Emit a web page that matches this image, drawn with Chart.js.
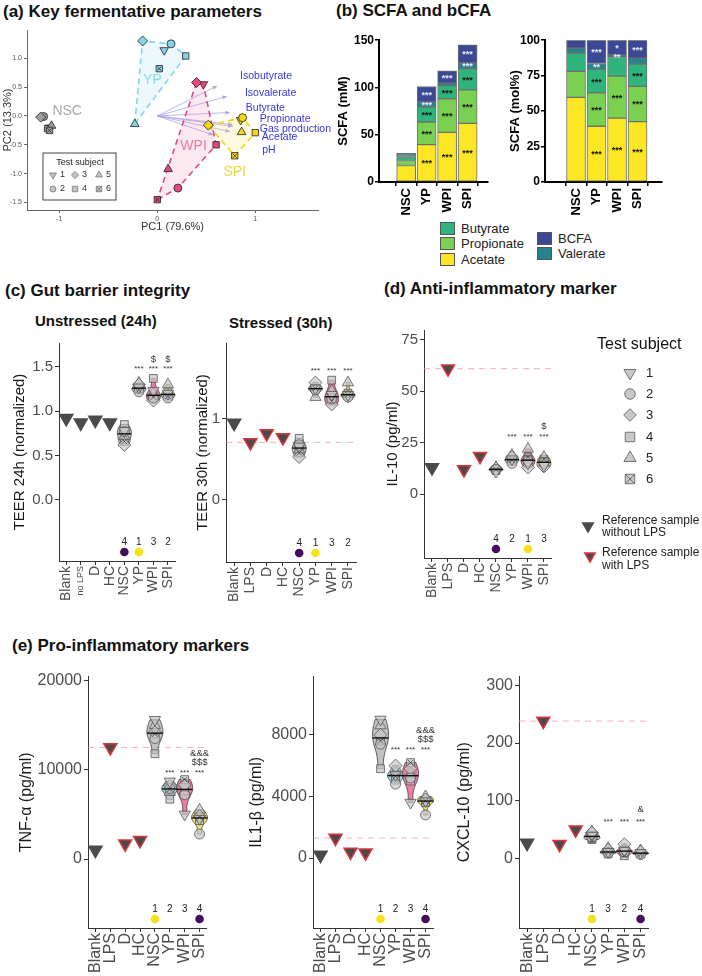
<!DOCTYPE html>
<html>
<head>
<meta charset="utf-8">
<title>Fermentation and gut barrier</title>
<script src="https://cdn.jsdelivr.net/npm/chart.js@4.4.1/dist/chart.umd.min.js"></script>
<style>
  html, body { margin: 0; padding: 0; background: #fff; }
  body { position: relative; width: 702px; height: 976px; overflow: hidden; font-family: "Liberation Sans", Arial, sans-serif; }
  canvas { position: absolute; }
  .t { position: absolute; white-space: nowrap; line-height: 1; color: #111; font-weight: bold; }
  .lg { position: absolute; padding-left: 21px; font-size: 13px; line-height: 13px; color: #222; white-space: nowrap; }
  .lg i { position: absolute; left: 0; top: 0; width: 13px; height: 11px; border: 1px solid #555; }
</style>
</head>
<body>
<div class="t" style="left:3px;top:3px;font-size:17px">(a) Key fermentative parameters</div>
<div class="t" style="left:336px;top:2px;font-size:17px">(b) SCFA and bCFA</div>
<div class="t" style="left:5px;top:282px;font-size:17px">(c) Gut barrier integrity</div>
<div class="t" style="left:384px;top:280px;font-size:17px">(d) Anti-inflammatory marker</div>
<div class="t" style="left:35px;top:313px;font-size:15px">Unstressed (24h)</div>
<div class="t" style="left:229px;top:315px;font-size:15px">Stressed (30h)</div>
<div class="t" style="left:12px;top:637px;font-size:17px">(e) Pro-inflammatory markers</div>

<div class="lg" style="left:440px;top:222px"><i style="background:#2fb47c"></i>Butyrate</div>
<div class="lg" style="left:440px;top:237px"><i style="background:#7ad151"></i>Propionate</div>
<div class="lg" style="left:440px;top:253px"><i style="background:#fde725"></i>Acetate</div>
<div class="lg" style="left:537px;top:232px"><i style="background:#3b4994"></i>BCFA</div>
<div class="lg" style="left:537px;top:247px"><i style="background:#26828e"></i>Valerate</div>

<script>
// ---------- (a) PCA scores [PC1, PC2], subjects 1..6 ----------
const pcaGroupNames = ['NSC', 'YP', 'WPI', 'SPI'];
const pcaNSC = [[-1.10, -0.20], [-1.16, -0.01], [-1.19, -0.02], [-1.12, -0.22], [-1.08, -0.17], [-1.10, -0.25]];
const pcaYP  = [[0.07, 1.14], [0.14, 1.25], [-0.15, 1.30], [0.29, 1.04], [-0.23, -0.14], [0.02, 0.82]];
const pcaWPI = [[0.47, 0.55], [0.21, -1.25], [0.40, 0.58], [0.60, -0.50], [0.11, -0.92], [0.00, -1.45]];
const pcaSPI = [[0.85, -0.07], [0.87, -0.03], [0.52, -0.16], [1.00, -0.29], [0.86, -0.28], [0.79, -0.69]];
const loadNames = ['Isobutyrate', 'Isovalerate', 'Butyrate', 'Propionate', 'Gas production', 'Acetate', 'pH'];
const loadPC1 = [0.61, 0.71, 0.74, 0.77, 0.77, 0.74, 0.57];
const loadPC2 = [0.52, 0.34, 0.06, -0.15, -0.18, -0.27, -0.33];

// ---------- (b) SCFA ----------
const scfaCats = ['NSC', 'YP', 'WPI', 'SPI'];
const acidNames = ['Acetate', 'Propionate', 'Butyrate', 'Valerate', 'BCFA'];
const acetateMM = [17.5, 39.5, 52.5, 62.0];
const propionateMM = [5.2, 24.0, 35.5, 35.5];
const butyrateMM = [4.3, 16.0, 14.0, 22.5];
const valerateMM = [1.5, 5.3, 2.6, 6.0];
const bcfaMM = [1.8, 16.2, 12.9, 19.0];
const acetatePct = [59.7, 39.3, 45.0, 42.6];
const propionatePct = [18.3, 23.5, 29.7, 24.8];
const butyratePct = [12.9, 16.8, 13.1, 15.7];
const valeratePct = [3.5, 4.0, 1.9, 4.3];
const bcfaPct = [5.6, 16.4, 10.3, 12.6];
const starsMM = [
  ['', '***', '***', '***'],
  ['', '***', '***', '***'],
  ['', '***', '***', '***'],
  ['', '***', '', '***'],
  ['', '***', '***', '***']
];
const starsPct = [
  ['', '***', '***', '***'],
  ['', '***', '***', '***'],
  ['', '***', '', '***'],
  ['', '**', '**', ''],
  ['', '***', '*', '***']
];

// ---------- (c)-(e) reference samples + subjects 1..6 per group (NSC, YP, WPI, SPI) ----------
const cats24 = ['Blank', 'no LPS', 'D', 'HC', 'NSC', 'YP', 'WPI', 'SPI'];
const catsLps = ['Blank', 'LPS', 'D', 'HC', 'NSC', 'YP', 'WPI', 'SPI'];

const teer24Ref = [0.92, 0.87, 0.90, 0.87];
const teer24 = [
  [0.78, 0.77, 0.62, 0.85, 0.72, 0.66],
  [1.27, 1.22, 1.30, 1.25, 1.32, 1.24],
  [1.23, 1.15, 1.12, 1.37, 1.20, 1.16],
  [1.20, 1.15, 1.18, 1.22, 1.30, 1.17]
];
const teer24Sig = [['', '***', '***', '***'], ['', '', '$', '$']];
const teer24Rank = [4, 1, 3, 2];

const teer30Ref = [0.95, 0.71, 0.82, 0.77];
const teer30 = [
  [0.66, 0.68, 0.53, 0.76, 0.62, 0.58],
  [1.38, 1.36, 1.45, 1.37, 1.27, 1.38],
  [1.30, 1.25, 1.18, 1.48, 1.35, 1.22],
  [1.30, 1.27, 1.28, 1.32, 1.45, 1.30]
];
const teer30Sig = [['', '***', '***', '***']];
const teer30Rank = [4, 1, 3, 2];

const il10Ref = [13, 61, 12, 18.5];
const il10 = [
  [11, 12, 12.5, 11.5, 13, 12],
  [17, 15, 18, 16, 19, 16.5],
  [15, 16, 13, 17, 22, 18],
  [14, 15, 13.5, 16, 18, 17]
];
const il10Sig = [['', '***', '***', '***'], ['', '', '', '$']];
const il10Rank = [4, 2, 1, 3];

const tnfRef = [1000, 12500, 1700, 2100];
const tnf = [
  [15600, 13500, 14200, 11800, 15000, 14000],
  [8700, 7900, 8200, 6700, 7500, 7800],
  [5000, 7200, 8300, 8000, 7600, 8900],
  [4500, 2800, 4800, 4300, 5500, 4700]
];
const tnfSig = [['', '***', '***', '***'], ['', '', '', '$$$'], ['', '', '', '&&&']];
const tnfRank = [1, 2, 3, 4];

const il1bRef = [200, 1300, 400, 350];
const il1b = [
  [9000, 7400, 8000, 5800, 8600, 7600],
  [5400, 4800, 6000, 5200, 5600, 5300],
  [3600, 5200, 5800, 5000, 5500, 6200],
  [3700, 2800, 3800, 3600, 4000, 3700]
];
const il1bSig = [['', '***', '***', '***'], ['', '', '', '$$$'], ['', '', '', '&&&']];
const il1bRank = [1, 2, 3, 4];

const cxclRef = [27, 238, 25, 50];
const cxcl = [
  [40, 37, 45, 35, 47, 33],
  [12, 10, 15, 8, 18, 11],
  [14, 12, 25, 10, 16, 5],
  [10, 7, 12, 9, 14, 8]
];
const cxclSig = [['', '***', '***', '***'], ['', '', '', '&']];
const cxclRank = [1, 3, 2, 4];

// ---------- helpers ----------
const fam = '"Liberation Sans", Arial, Helvetica, sans-serif';
Chart.defaults.font.family = fam;
Chart.defaults.animation = false;
Chart.defaults.plugins.legend.display = false;
Chart.defaults.plugins.tooltip.enabled = false;

function addCanvas(left, top, w, h) {
  const c = document.createElement('canvas');
  c.width = w; c.height = h;
  c.style.left = left + 'px'; c.style.top = top + 'px';
  c.style.width = w + 'px'; c.style.height = h + 'px';
  document.body.appendChild(c);
  return c.getContext('2d');
}
// ticks at multiples of step inside the axis range (optionally not below `floor`)
function stepTicks(step, floor) {
  return s => {
    const start = floor === undefined ? s.min : Math.max(s.min, floor);
    const out = [];
    for (let k = Math.ceil(start / step - 1e-9); k * step <= s.max + 1e-9; k++) {
      out.push({ value: +(k * step).toFixed(6) });
    }
    s.ticks = out;
  };
}
// legend / annotation shapes: 0 down-tri, 1 circle, 2 diamond, 3 square, 4 up-tri, 5 crossed square
function shape(ctx, kind, x, y, r) {
  ctx.beginPath();
  if (kind === 0) {
    ctx.moveTo(x - r * 0.87, y - r * 0.5); ctx.lineTo(x + r * 0.87, y - r * 0.5); ctx.lineTo(x, y + r); ctx.closePath();
  } else if (kind === 4) {
    ctx.moveTo(x - r * 0.87, y + r * 0.5); ctx.lineTo(x + r * 0.87, y + r * 0.5); ctx.lineTo(x, y - r); ctx.closePath();
  } else if (kind === 1) {
    ctx.arc(x, y, r * 0.75, 0, Math.PI * 2);
  } else if (kind === 2) {
    ctx.moveTo(x, y - r * 0.9); ctx.lineTo(x + r * 0.9, y); ctx.lineTo(x, y + r * 0.9); ctx.lineTo(x - r * 0.9, y); ctx.closePath();
  } else {
    const s = r * 0.68; ctx.rect(x - s, y - s, 2 * s, 2 * s);
  }
  ctx.fill(); ctx.stroke();
  if (kind === 5) {
    const s = r * 0.68;
    ctx.beginPath();
    ctx.moveTo(x - s, y - s); ctx.lineTo(x + s, y + s);
    ctx.moveTo(x + s, y - s); ctx.lineTo(x - s, y + s);
    ctx.stroke();
  }
}
function hull(pts) {
  const p = pts.slice().sort((a, b) => a[0] - b[0] || a[1] - b[1]);
  const cr = (o, a, b) => (a[0] - o[0]) * (b[1] - o[1]) - (a[1] - o[1]) * (b[0] - o[0]);
  const lo = [], up = [];
  for (const q of p) { while (lo.length >= 2 && cr(lo[lo.length - 2], lo[lo.length - 1], q) <= 0) lo.pop(); lo.push(q); }
  for (let i = p.length - 1; i >= 0; i--) { const q = p[i]; while (up.length >= 2 && cr(up[up.length - 2], up[up.length - 1], q) <= 0) up.pop(); up.push(q); }
  up.pop(); lo.pop();
  const h = lo.concat(up); h.push(h[0]);
  return h;
}

const subjStyle = ['triangle', 'circle', 'rectRot', 'rect', 'triangle', 'rect'];
const subjRot = [180, 0, 0, 0, 0, 0];

// ---------- (a) PCA biplot ----------
(function () {
  const groups = [pcaNSC, pcaYP, pcaWPI, pcaSPI];
  const colors = ['#9e9e9e', '#86d4ea', '#e5487f', '#f3d616'];
  const fills = [null, 'rgba(134,212,234,0.16)', 'rgba(229,72,127,0.12)', 'rgba(243,214,22,0.13)'];
  const labelAt = [[-0.92, 0.08], [-0.05, 0.62], [0.37, -0.53], [0.79, -0.97]];
  const labelCol = ['#a9a9a9', '#8ad6ec', '#e87aa2', '#f0d53a'];
  const nudge = [[23, -10], [18, -3], [16, -4], [27, -6], [27, 3], [32, 6], [49, 15]];
  const datasets = [];
  groups.forEach((g, gi) => {
    if (fills[gi]) {
      datasets.push({
        data: hull(g).map(p => ({ x: p[0], y: p[1] })), showLine: true, fill: 'shape',
        borderColor: colors[gi], backgroundColor: fills[gi], borderWidth: 1.6, borderDash: [6, 4],
        pointRadius: 0, order: 5, tension: 0
      });
    }
    datasets.push({
      data: g.map(p => ({ x: p[0], y: p[1] })), order: 2,
      pointStyle: subjStyle, pointRotation: subjRot, pointRadius: [5, 4, 5, 4.5, 5, 4.5],
      pointBackgroundColor: colors[gi], pointBorderColor: '#222', pointBorderWidth: 0.8
    });
    datasets.push({
      data: [g[5]].map(p => ({ x: p[0], y: p[1] })), order: 1,
      pointStyle: 'crossRot', pointRadius: 3, pointBorderColor: '#222', pointBorderWidth: 0.8
    });
  });
  const extras = {
    id: 'pcaExtras',
    beforeDatasetsDraw(chart) {
      const { ctx, scales: { x, y } } = chart;
      const ox = x.getPixelForValue(0), oy = y.getPixelForValue(0);
      ctx.save();
      ctx.strokeStyle = 'rgba(170,160,235,0.75)';
      ctx.fillStyle = 'rgba(170,160,235,0.85)';
      ctx.lineWidth = 1;
      loadNames.forEach((n, i) => {
        const tx = x.getPixelForValue(loadPC1[i]), ty = y.getPixelForValue(loadPC2[i]);
        ctx.beginPath(); ctx.moveTo(ox, oy); ctx.lineTo(tx, ty); ctx.stroke();
        const a = Math.atan2(ty - oy, tx - ox);
        ctx.beginPath(); ctx.moveTo(tx, ty);
        ctx.lineTo(tx - 5 * Math.cos(a - 0.45), ty - 5 * Math.sin(a - 0.45));
        ctx.lineTo(tx - 5 * Math.cos(a + 0.45), ty - 5 * Math.sin(a + 0.45));
        ctx.closePath(); ctx.fill();
      });
      ctx.restore();
    },
    afterDatasetsDraw(chart) {
      const { ctx, chartArea: a, scales: { x, y } } = chart;
      ctx.save();
      ctx.textBaseline = 'middle';
      ctx.textAlign = 'left';
      ctx.font = '10.5px ' + fam;
      ctx.fillStyle = '#3636dc';
      loadNames.forEach((n, i) => {
        ctx.fillText(n, x.getPixelForValue(loadPC1[i]) + nudge[i][0], y.getPixelForValue(loadPC2[i]) + nudge[i][1]);
      });
      ctx.textAlign = 'center';
      ctx.font = '14px ' + fam;
      pcaGroupNames.forEach((n, i) => {
        ctx.fillStyle = labelCol[i];
        ctx.fillText(n, x.getPixelForValue(labelAt[i][0]), y.getPixelForValue(labelAt[i][1]));
      });
      // legend box
      const bx = a.left + 16, by = a.top + 123;
      ctx.strokeStyle = '#444'; ctx.lineWidth = 1;
      ctx.fillStyle = '#fff';
      ctx.fillRect(bx, by, 73, 47); ctx.strokeRect(bx, by, 73, 47);
      ctx.fillStyle = '#222'; ctx.font = '9px ' + fam;
      ctx.fillText('Test subject', bx + 37, by + 10);
      const cols = [10, 32, 56], rows = [22, 36];
      const order = [[0, 2, 4], [1, 3, 5]];
      order.forEach((row, ri) => row.forEach((k, ci) => {
        ctx.fillStyle = '#c4c4c4'; ctx.strokeStyle = '#777'; ctx.lineWidth = 0.8;
        shape(ctx, k, bx + cols[ci], by + rows[ri], 4);
        ctx.fillStyle = '#333'; ctx.textAlign = 'left';
        ctx.fillText(String(k + 1), bx + cols[ci] + 7, by + rows[ri]);
      }));
      ctx.restore();
    }
  };
  new Chart(addCanvas(1, 22, 337, 218), {
    type: 'scatter',
    data: { datasets },
    options: {
      responsive: false, devicePixelRatio: 1,
      layout: { padding: { top: 8, right: 20, left: 0, bottom: 0 }, autoPadding: false },
      scales: {
        x: {
          type: 'linear', min: -1.33, max: 1.64,
          grid: { drawOnChartArea: false, color: '#666', tickLength: 3 },
          border: { color: '#666' },
          ticks: { autoSkip: false, color: '#555', font: { size: 7 }, padding: 2, callback: v => String(v) },
          title: { display: true, text: 'PC1 (79.6%)', color: '#333', font: { size: 11 }, padding: { top: 0, bottom: 6 } },
          afterBuildTicks: stepTicks(1),
          afterFit: s => { s.height = 30; }
        },
        y: {
          type: 'linear', min: -1.63, max: 1.49,
          grid: { drawOnChartArea: false, color: '#666', tickLength: 3 },
          border: { color: '#666' },
          ticks: { autoSkip: false, color: '#555', font: { size: 7 }, padding: 2, callback: v => v.toFixed(1) },
          title: { display: true, text: 'PC2 (13.3%)', color: '#333', font: { size: 11 }, padding: { top: 0, bottom: 0 } },
          afterBuildTicks: stepTicks(0.5),
          afterFit: s => { s.width = 26; }
        }
      }
    },
    plugins: [extras]
  });
})();

// ---------- (b) stacked bars ----------
function scfaChart(left, yW, w, padTop, series, stars, yMax, yStep, xMin, xMax, title) {
  const colors = ['#fde725', '#7ad151', '#2fb47c', '#26828e', '#3b4994'];
  const starPlug = {
    id: 'stars',
    afterDatasetsDraw(chart) {
      const ctx = chart.ctx;
      ctx.save();
      ctx.textAlign = 'center'; ctx.textBaseline = 'middle';
      ctx.font = 'bold 9px ' + fam;
      stars.forEach((row, di) => {
        const meta = chart.getDatasetMeta(di);
        row.forEach((s, j) => {
          if (!s) return;
          const el = meta.data[j];
          ctx.fillStyle = di >= 3 ? '#e8ecff' : '#111';
          ctx.fillText(s, el.x, (el.y + el.base) / 2 + 1);
        });
      });
      ctx.restore();
    }
  };
  new Chart(addCanvas(left, 32, w, 190), {
    type: 'bar',
    data: {
      datasets: series.map((vals, di) => ({
        label: acidNames[di],
        data: vals.map((v, i) => ({ x: i, y: v })),
        backgroundColor: colors[di], borderColor: '#6f6f6f', borderWidth: 1,
        borderSkipped: false, barThickness: 19
      }))
    },
    options: {
      responsive: false, devicePixelRatio: 1,
      layout: { padding: { top: padTop, right: 2, left: 0, bottom: 0 }, autoPadding: false },
      scales: {
        x: {
          type: 'linear', min: xMin, max: xMax, stacked: true,
          grid: { drawOnChartArea: false, color: '#000', tickLength: 4, lineWidth: 1.5 },
          border: { color: '#000', width: 2 },
          ticks: {
            autoSkip: false, minRotation: 90, maxRotation: 90, color: '#000',
            font: { size: 13, weight: 'bold' }, padding: 2, callback: v => scfaCats[v]
          },
          afterBuildTicks: s => { s.ticks = scfaCats.map((c, i) => ({ value: i })); },
          afterFit: s => { s.height = 40; }
        },
        y: {
          type: 'linear', min: 0, max: yMax, stacked: true,
          grid: { drawOnChartArea: false, color: '#000', tickLength: 4, lineWidth: 1.5 },
          border: { color: '#000', width: 2 },
          ticks: { autoSkip: false, color: '#000', font: { size: 12, weight: 'bold' }, padding: 1 },
          title: { display: true, text: title, color: '#000', font: { size: 13, weight: 'bold' }, padding: { top: 0, bottom: 0 } },
          afterBuildTicks: stepTicks(yStep),
          afterFit: s => { s.width = yW; }
        }
      }
    },
    plugins: [starPlug]
  });
}
scfaChart(336, 43, 154, 8, [acetateMM, propionateMM, butyrateMM, valerateMM, bcfaMM], starsMM, 150, 50, -0.66, 3.33, 'SCFA (mM)');
scfaChart(508, 37, 156, 7, [acetatePct, propionatePct, butyratePct, valeratePct, bcfaPct], starsPct, 100, 25, -0.8, 3.48, 'SCFA (mol%)');

// ---------- (c)-(e) dot / violin plots ----------
function dotPlot(p) {
  const groupCol = ['rgba(189,189,189,0.9)', 'rgba(150,212,232,0.9)', 'rgba(232,112,156,0.9)', 'rgba(238,222,100,0.9)'];
  const datasets = [];
  datasets.push({
    data: p.cats.map((c, i) => i < 4 ? p.ref[i] : null), showLine: false, order: 3,
    pointStyle: 'triangle', pointRotation: 180, pointRadius: 7.5,
    pointBackgroundColor: '#4a4a4a',
    pointBorderColor: p.cats.map((c, i) => i >= p.lpsFrom ? '#d9363e' : '#4a4a4a'),
    pointBorderWidth: 1.5
  });
  for (let s = 0; s < 6; s++) {
    datasets.push({
      data: p.cats.map((c, i) => i < 4 ? null : p.data[i - 4][s]), showLine: false, order: 2,
      pointStyle: subjStyle[s], pointRotation: subjRot[s], pointRadius: [6.5, 5, 6.5, 5.5, 6.5, 5.5][s],
      pointBackgroundColor: 'rgba(200,200,200,0.72)', pointBorderColor: '#555', pointBorderWidth: 0.8
    });
  }
  datasets.push({
    data: p.cats.map((c, i) => i < 4 ? null : p.data[i - 4][5]), showLine: false, order: 1,
    pointStyle: 'crossRot', pointRadius: 3.8, pointBorderColor: '#444', pointBorderWidth: 0.8
  });
  const median = v => { const s = v.slice().sort((a, b) => a - b); return (s[2] + s[3]) / 2; };
  const ann = {
    id: 'ann',
    beforeDatasetsDraw(chart) {
      const { ctx, chartArea: a, scales: { x, y } } = chart;
      ctx.save();
      if (p.refLine !== undefined) {
        const py = y.getPixelForValue(p.refLine);
        ctx.strokeStyle = 'rgba(240,150,160,0.75)'; ctx.lineWidth = 1; ctx.setLineDash([6, 5]);
        ctx.beginPath(); ctx.moveTo(a.left, py); ctx.lineTo(a.right, py); ctx.stroke();
        ctx.setLineDash([]);
      }
      // violins (gaussian kernel density, trimmed to data range)
      p.data.forEach((vals, g) => {
        const n = vals.length, mean = vals.reduce((u, v) => u + v, 0) / n;
        const sd = Math.sqrt(vals.reduce((u, v) => u + (v - mean) * (v - mean), 0) / (n - 1));
        const h = Math.max(0.9 * sd * Math.pow(n, -0.2), 1e-9);
        const lo = Math.min(...vals), hi = Math.max(...vals);
        const prof = [];
        let mx = 0;
        for (let k = 0; k <= 40; k++) {
          const v = lo + (hi - lo) * k / 40;
          const d = vals.reduce((u, w) => u + Math.exp(-0.5 * ((v - w) / h) ** 2), 0);
          prof.push([v, d]); mx = Math.max(mx, d);
        }
        const cx = x.getPixelForValue(g + 4);
        ctx.beginPath();
        prof.forEach(([v, d], k) => {
          const px = cx + d / mx * p.halfW, py = y.getPixelForValue(v);
          k ? ctx.lineTo(px, py) : ctx.moveTo(px, py);
        });
        for (let k = prof.length - 1; k >= 0; k--) {
          ctx.lineTo(cx - prof[k][1] / mx * p.halfW, y.getPixelForValue(prof[k][0]));
        }
        ctx.closePath();
        ctx.fillStyle = groupCol[g]; ctx.fill();
        ctx.strokeStyle = '#333'; ctx.lineWidth = 0.8; ctx.stroke();
      });
      ctx.restore();
    },
    afterDatasetsDraw(chart) {
      const { ctx, chartArea: a, scales: { x, y } } = chart;
      ctx.save();
      ctx.strokeStyle = '#111'; ctx.lineWidth = 1.4;
      p.data.forEach((vals, g) => {
        const cx = x.getPixelForValue(g + 4), py = y.getPixelForValue(median(vals));
        ctx.beginPath(); ctx.moveTo(cx - p.halfW, py); ctx.lineTo(cx + p.halfW, py); ctx.stroke();
      });
      ctx.textAlign = 'center'; ctx.textBaseline = 'middle';
      const base = y.getPixelForValue(p.sigY);
      p.sig.forEach((row, k) => row.forEach((s, g) => {
        if (!s) return;
        ctx.fillStyle = '#333';
        ctx.font = (k === 0 ? '8px ' : '9.5px ') + fam;
        ctx.fillText(s, x.getPixelForValue(g + 4), base - k * p.sigGap + (k === 0 ? 2 : 0));
      }));
      p.rank.forEach((r, g) => {
        const cx = x.getPixelForValue(g + 4);
        ctx.fillStyle = '#222'; ctx.font = '10px ' + fam;
        ctx.fillText(String(r), cx, a.bottom - 19);
        if (r === 1 || r === 4) {
          ctx.fillStyle = r === 1 ? '#f7e21a' : '#460a5d';
          ctx.beginPath(); ctx.arc(cx, a.bottom - 9, 4.3, 0, Math.PI * 2); ctx.fill();
        }
      });
      ctx.restore();
    }
  };
  new Chart(addCanvas(p.left, p.top, p.w, p.h), {
    type: 'line',
    data: { labels: p.cats, datasets },
    options: {
      responsive: false, devicePixelRatio: 1,
      layout: { padding: { top: 8, right: 4, left: 0, bottom: 0 }, autoPadding: false },
      scales: {
        x: {
          type: 'category', offset: true,
          grid: { drawOnChartArea: false, color: '#333', tickLength: 4 },
          border: { color: '#333', width: 1 },
          ticks: {
            minRotation: 90, maxRotation: 90, autoSkip: false, color: '#4d4d4d', padding: 1,
            font: c => ({ size: (p.smallSecond && c.index === 1) ? 9 : p.xFont })
          },
          afterFit: s => { s.height = p.xH; }
        },
        y: {
          type: 'linear', min: p.min, max: p.max,
          grid: { drawOnChartArea: false, color: '#333', tickLength: 4 },
          border: { color: '#333', width: 1 },
          ticks: { autoSkip: false, color: '#4d4d4d', font: { size: p.yFont }, padding: 2, callback: p.fmt },
          title: { display: true, text: p.title, color: '#1a1a1a', font: { size: p.titleSize }, padding: { top: 0, bottom: 0 } },
          afterBuildTicks: stepTicks(p.step, 0),
          afterFit: s => { s.width = p.yW; }
        }
      }
    },
    plugins: [ann]
  });
}

dotPlot({ left: 11, top: 332, w: 175, h: 283, yW: 48, xH: 54, cats: cats24, ref: teer24Ref, lpsFrom: 99,
  data: teer24, sig: teer24Sig, rank: teer24Rank, sigY: 1.5, sigGap: 8, min: -0.69, max: 1.77, step: 0.5,
  fmt: v => v.toFixed(1), title: 'TEER 24h (normalized)', titleSize: 15, yFont: 15, xFont: 14, smallSecond: true, halfW: 7 });
dotPlot({ left: 194, top: 332, w: 172, h: 283, yW: 32, xH: 53, cats: catsLps, ref: teer30Ref, lpsFrom: 1,
  data: teer30, sig: teer30Sig, rank: teer30Rank, sigY: 1.62, sigGap: 8, min: -0.77, max: 1.94, step: 1,
  fmt: v => String(v), title: 'TEER 30h (normalized)', titleSize: 15, yFont: 15, xFont: 14, refLine: teer30Ref[1], halfW: 7 });
dotPlot({ left: 384, top: 319, w: 178, h: 296, yW: 40, xH: 57, cats: catsLps, ref: il10Ref, lpsFrom: 1,
  data: il10, sig: il10Sig, rank: il10Rank, sigY: 29, sigGap: 8.5, min: -31, max: 79.8, step: 25,
  fmt: v => String(v), title: 'IL-10 (pg/ml)', titleSize: 15, yFont: 15, xFont: 14, refLine: il10Ref[1], halfW: 7 });
dotPlot({ left: 17, top: 665, w: 203, h: 311, yW: 71, xH: 48, cats: catsLps, ref: tnfRef, lpsFrom: 1,
  data: tnf, sig: tnfSig, rank: tnfRank, sigY: 9900, sigGap: 8.5, min: -7730, max: 20440, step: 10000,
  fmt: v => String(v), title: 'TNF-α (pg/ml)', titleSize: 16, yFont: 16, xFont: 16, refLine: tnfRef[1], halfW: 8 });
dotPlot({ left: 247, top: 665, w: 199, h: 311, yW: 66, xH: 48, cats: catsLps, ref: il1bRef, lpsFrom: 1,
  data: il1b, sig: il1bSig, rank: il1bRank, sigY: 7170, sigGap: 8.7, min: -4540, max: 11780, step: 4000,
  fmt: v => String(v), title: 'IL1-β (pg/ml)', titleSize: 16, yFont: 16, xFont: 16, refLine: il1bRef[1], halfW: 8 });
dotPlot({ left: 455, top: 665, w: 206, h: 311, yW: 64, xH: 48, cats: catsLps, ref: cxclRef, lpsFrom: 1,
  data: cxcl, sig: cxclSig, rank: cxclRank, sigY: 68, sigGap: 10, min: -120, max: 315, step: 100,
  fmt: v => String(v), title: 'CXCL-10 (pg/ml)', titleSize: 16, yFont: 16, xFont: 16, refLine: cxclRef[1], halfW: 8 });

// ---------- shared legend for (c)-(e) ----------
(function () {
  const ctx = addCanvas(580, 330, 122, 250);
  ctx.textBaseline = 'middle';
  ctx.fillStyle = '#111'; ctx.font = '16px ' + fam;
  ctx.fillText('Test subject', 17, 15);
  const rows = [43, 64, 85, 107, 128, 149];
  ctx.font = '13px ' + fam;
  rows.forEach((ry, k) => {
    ctx.fillStyle = '#c8c8c8'; ctx.strokeStyle = '#666'; ctx.lineWidth = 0.9;
    shape(ctx, k, 50, ry, 7);
    ctx.fillStyle = '#222';
    ctx.fillText(String(k + 1), 66, ry);
  });
  ctx.lineWidth = 1.5;
  ctx.fillStyle = '#4a4a4a'; ctx.strokeStyle = '#4a4a4a';
  shape(ctx, 0, 8, 196, 6);
  ctx.strokeStyle = '#d9363e';
  shape(ctx, 0, 10, 226, 6);
  ctx.fillStyle = '#222'; ctx.font = '12px ' + fam;
  ctx.fillText('Reference sample', 22, 191);
  ctx.fillText('without LPS', 22, 203);
  ctx.fillText('Reference sample', 22, 223);
  ctx.fillText('with LPS', 22, 236);
})();
</script>
</body>
</html>
